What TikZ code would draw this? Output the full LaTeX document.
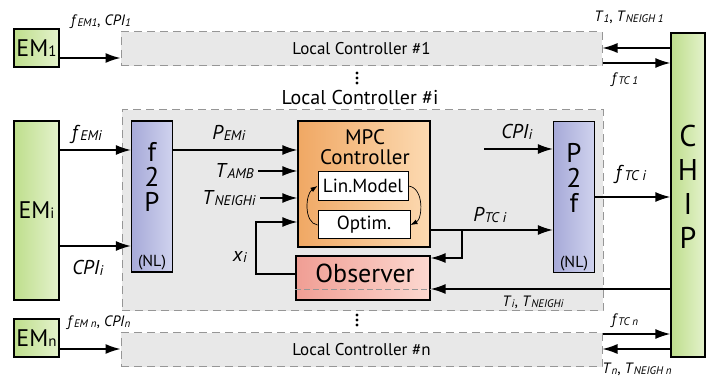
\documentclass[tikz,border=0pt]{standalone}
\usepackage{fontspec}
\setmainfont{PT Sans}
\usetikzlibrary{arrows.meta,positioning}
\definecolor{emgreen}{RGB}{190,222,140}
\definecolor{emlight}{RGB}{228,242,204}
\definecolor{nlblue}{RGB}{166,170,216}
\definecolor{nllight}{RGB}{208,210,238}
\definecolor{mpcorange}{RGB}{240,168,100}
\definecolor{mpclight}{RGB}{252,218,178}
\definecolor{obsred}{RGB}{240,158,148}
\definecolor{obslight}{RGB}{252,216,208}
\definecolor{lcfill}{RGB}{232,232,232}
\definecolor{lcgray}{RGB}{150,150,150}
\newcommand{\sig}[3][14]{\textit{#2}\raisebox{-0.15ex}{\fontsize{#1}{#1}\selectfont\textit{#3}}}
\newcommand{\emsub}[1]{{\fontsize{15}{15}\selectfont #1}}
\begin{document}
\begin{tikzpicture}[x=1pt,y=-1pt,
  box/.style={draw,line width=1.3pt,inner sep=0pt},
  embox/.style={box,left color=emgreen,right color=emlight,minimum width=45pt,font=\fontsize{24}{24}\selectfont},
  lcbox/.style={draw=lcgray,dash pattern=on 8pt off 5pt,line width=1pt,fill=lcfill,minimum width=481pt,inner sep=0pt,font=\fontsize{17}{17}\selectfont},
  nlbox/.style={box,left color=nlblue,right color=nllight,minimum width=41pt,minimum height=151pt},
  nltext/.style={align=center,font=\fontsize{27}{25}\selectfont,inner sep=0pt},
  nlnote/.style={font=\fontsize{16}{16}\selectfont,inner sep=1pt},
  inbox/.style={box,line width=1pt,fill=white,font=\fontsize{19}{19}\selectfont},
  arr/.style={line width=1.5pt,-{Latex[length=15pt,width=10pt]}},
  loop/.style={line width=0.7pt,-{Latex[length=7pt,width=5pt]}},
  lab/.style={font=\fontsize{20}{20}\selectfont,inner sep=1pt},
  labs/.style={font=\fontsize{15}{15}\selectfont,inner sep=1pt}]
\useasboundingbox (0,0) rectangle (710,379);
% local controllers
\node[lcbox,minimum height=34pt] (lc1) at (361.5,49) {Local Controller \#1};
\node[lcbox,minimum height=201pt] (lci) at (362.5,210.5) {};
\node[lcbox,minimum height=34pt] (lcn) at (361.5,350) {Local Controller \#n};
\node[font=\fontsize{20}{20}\selectfont,inner sep=0pt] (lcititle) at (360,98) {Local Controller \#i};
\coordinate (dots1) at (357,78);
\coordinate (dotsn) at (357,320);
\foreach \d in {-5,0,5} {
  \fill ([yshift=\d pt]dots1) circle (1.6pt);
  \fill ([yshift=\d pt]dotsn) circle (1.6pt);
}
% managers and chip
\node[embox,minimum height=38pt] (em1) at (36.5,48) {EM\emsub{1}};
\node[embox,minimum height=179pt] (emi) at (36.5,210.5) {EM\emsub{i}};
\node[embox,minimum height=38pt] (emn) at (36.5,338) {EM\emsub{n}};
\node[box,left color=emgreen,right color=emlight,minimum width=34pt,minimum height=324pt] (chip) at (688,195) {};
\node[align=center,font=\fontsize{30}{34}\selectfont,inner sep=0pt] (chiptxt) at (688,187) {C\\H\\I\\P};
% converters
\node[nlbox] (f2p) at (152,196.5) {};
\node[nltext] (f2ptxt) at (152,177) {f\\2\\P};
\node[nlnote,above=1pt of f2p.south] (f2pnl) {(NL)};
\node[nlbox] (p2f) at (574,197) {};
\node[nltext] (p2ftxt) at (574,178) {P\\2\\f};
\node[nlnote,above=1pt of p2f.south] (p2fnl) {(NL)};
% MPC and observer
\node[box,left color=mpcorange,right color=mpclight,minimum width=132pt,minimum height=126pt] (mpc) at (364,184) {};
\node[align=center,font=\fontsize{21}{20}\selectfont,inner sep=0pt] (mpctxt) at (365,147) {MPC\\Controller};
\node[inbox,minimum width=90pt,minimum height=29pt] (lin) at (363,186) {Lin.Model};
\node[inbox,minimum width=92pt,minimum height=28pt] (opt) at (364,225) {Optim.};
\node[box,left color=obsred,right color=obslight,minimum width=134pt,minimum height=44pt] (obs) at (363,278) {};
\node[font=\fontsize{26}{26}\selectfont,inner sep=0pt] (obstxt) at (365,273) {Observer};
\draw[lcgray,line width=0.8pt,dash pattern=on 6pt off 3pt] (obs.west |- 0,289) -- (obs.east |- 0,289);
\draw[loop] (opt.west) .. controls +(-14,-2) and +(-12,8) .. (lin.west);
\draw[loop] (lin.east) .. controls +(16,2) and +(12,-6) .. (opt.east);
% labels
\node[labs] (lab1) at (101,22) {\sig[11]{f}{EM1}, \sig[11]{CPI}{1}};
\node[labs] (labt1) at (629,17) {\sig[11]{T}{1}, \sig[11]{T}{NEIGH 1}};
\node[labs] (labf1) at (625,80) {\sig[11]{f}{TC 1}};
\node[lab] (labfemi) at (87,134) {\sig{f}{EMi}};
\node[lab] (labcpil) at (88,268) {\sig{CPI}{i}};
\node[lab] (labpemi) at (229,133) {\sig{P}{EMi}};
\node[lab,anchor=east] (tamb) at (255,171) {\sig{T}{AMB}};
\node[lab,anchor=east] (tneigh) at (257,198) {\sig{T}{NEIGHi}};
\node[lab] (labxi) at (240,257) {\sig{x}{i}};
\node[lab] (labcpir) at (517,132) {\sig{CPI}{i}};
\node[lab] (labptc) at (490,215) {\sig{P}{TC i}};
\node[lab] (labftc) at (631,174) {\sig{f}{TC i}};
\node[labs] (labti) at (533,302) {\sig[11]{T}{i}, \sig[11]{T}{NEIGHi}};
\node[labs] (labn) at (99,323) {\sig[11]{f}{EM n}, \sig[11]{CPI}{n}};
\node[labs] (labfn) at (625,321) {\sig[11]{f}{TC n}};
\node[labs] (labtn) at (637,369) {\sig[11]{T}{n}, \sig[11]{T}{NEIGH n}};
% connectors
\coordinate (xbend) at (256,222);
\coordinate (cpistart) at (484,149);
\coordinate (ptcsplit) at (462,230);
\draw[arr] (em1.east |- 0,58) -- (lc1.west |- 0,58);
\draw[arr] (chip.west |- 0,48) -- (lc1.east |- 0,48);
\draw[arr] (lc1.east |- 0,63) -- (chip.west |- 0,63);
\draw[arr] (emi.east |- 0,150) -- (f2p.west |- 0,150);
\draw[arr] (emi.east |- 0,246) -- (f2p.west |- 0,246);
\draw[arr] (f2p.east |- 0,150) -- (mpc.west |- 0,150);
\draw[arr,shorten <=3pt] (tamb.east) -- (tamb.east -| mpc.west);
\draw[arr,shorten <=3pt] (tneigh.east) -- (tneigh.east -| mpc.west);
\draw[arr] (obs.west |- 0,274) -| (xbend) -- (mpc.west |- xbend);
\draw[arr] (cpistart) -- (p2f.west |- cpistart);
\draw[arr] (mpc.east |- ptcsplit) -- (p2f.west |- ptcsplit);
\draw[arr] (ptcsplit) |- (obs.east |- 0,258);
\draw[arr] (p2f.east |- 0,197) -- (chip.west |- 0,197);
\draw[arr] (chip.west |- 0,289) -- (obs.east |- 0,289);
\draw[arr] (emn.east |- 0,349) -- (lcn.west |- 0,349);
\draw[arr] (lcn.east |- 0,334) -- (chip.west |- 0,334);
\draw[arr] (chip.west |- 0,349) -- (lcn.east |- 0,349);
\end{tikzpicture}
\end{document}
